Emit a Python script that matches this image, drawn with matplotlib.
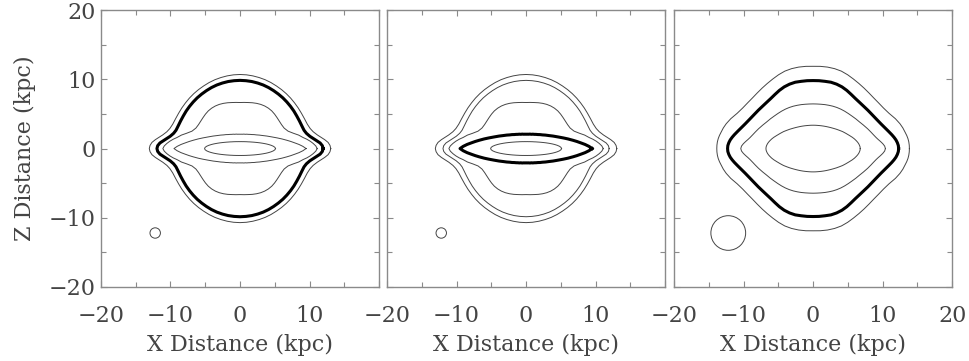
"""Three-panel iso-density contours (X-Z plane) for the disk+halo model,
with the smoothing beam drawn in the lower-left corner of each panel."""
import numpy as np
import matplotlib
matplotlib.use("Agg")
import matplotlib.pyplot as plt
from matplotlib.patches import Circle
from matplotlib.ticker import MultipleLocator, FixedLocator

# one quadrant of every contour, as radius (kpc) against polar angle (deg);
# the curves are mirror-symmetric in X and Z
THETA_DEG = [0, 2, 4, 6, 8, 10, 13, 16, 20, 25, 30, 35, 40, 45, 50, 55,
             60, 65, 70, 75, 80, 85, 90]

# panels 1 and 2 share the same contour set
R_HALO_OUT = [13.05, 12.95, 12.7, 12.25, 11.75, 11.3, 10.8, 10.5, 10.3, 10.22,
              10.2, 10.22, 10.25, 10.3, 10.35, 10.4, 10.45, 10.52, 10.58, 10.62,
              10.66, 10.69, 10.7]
R_HALO_IN = [11.95, 11.85, 11.55, 11.05, 10.6, 10.2, 9.8, 9.58, 9.48, 9.43,
             9.42, 9.45, 9.48, 9.52, 9.57, 9.61, 9.66, 9.72, 9.77, 9.8,
             9.83, 9.84, 9.85]
R_PINCH = [11.1, 10.9, 10.55, 10.15, 9.7, 9.2, 8.65, 8.0, 7.35, 7.0,
           6.9, 6.9, 6.95, 7.03, 7.1, 7.12, 7.1, 7.04, 6.95, 6.85,
           6.75, 6.69, 6.65]
R_LENS = [9.5, 9.05, 8.5, 7.9, 7.37, 6.86, 6.18, 5.57, 4.9, 4.27,
          3.76, 3.39, 3.07, 2.85, 2.64, 2.5, 2.37, 2.29, 2.19, 2.16,
          2.1, 2.08, 2.07]
R_CORE = [5.1, 5.02, 4.8, 4.5, 4.17, 3.84, 3.38, 2.99, 2.57, 2.18,
          1.89, 1.68, 1.51, 1.39, 1.29, 1.21, 1.15, 1.1, 1.06, 1.03,
          1.02, 1.0, 1.0]

# panel 3
R3_OUT = [13.85, 13.84, 13.8, 13.72, 13.6, 13.45, 13.25, 13.0, 12.6, 12.05,
          11.7, 11.5, 11.38, 11.36, 11.4, 11.48, 11.6, 11.76, 11.9, 11.95,
          11.95, 11.92, 11.88]
R3_THICK = [12.3, 12.27, 12.15, 11.98, 11.75, 11.5, 11.12, 10.78, 10.4, 10.05,
            9.8, 9.63, 9.5, 9.44, 9.45, 9.55, 9.7, 9.83, 9.9, 9.92,
            9.86, 9.84, 9.82]
R3_MID = [10.4, 10.3, 10.05, 9.75, 9.45, 9.2, 8.9, 8.65, 8.35, 8.0,
          7.7, 7.49, 7.3, 7.16, 7.05, 6.95, 6.85, 6.75, 6.65, 6.57,
          6.5, 6.46, 6.45]
R3_IN = [6.78, 6.76, 6.69, 6.6, 6.48, 6.34, 6.12, 5.88, 5.55, 5.2,
         4.9, 4.6, 4.35, 4.13, 3.95, 3.8, 3.68, 3.58, 3.5, 3.44,
         3.4, 3.38, 3.37]

PANEL_CONTOURS = [
    [R_HALO_OUT, R_HALO_IN, R_PINCH, R_LENS, R_CORE],
    [R_HALO_OUT, R_HALO_IN, R_PINCH, R_LENS, R_CORE],
    [R3_OUT, R3_THICK, R3_MID, R3_IN],
]
THICK_INDEX = [1, 3, 1]          # highlighted contour in each panel

BEAM_CENTER = (-12.2, -12.2)
BEAM_RADII = [0.75, 0.75, 2.5]

AX_LIM = 20
MAJOR_TICKS = [-20, -10, 0, 10, 20]
X_LABEL = "X Distance (kpc)"
Y_LABEL = "Z Distance (kpc)"

TEXT_C = "#444444"
FRAME_C = "#8a8a8a"
FS = 16


def _closed_curve(theta_deg, radii):
    th = np.radians(np.asarray(theta_deg, float))
    r = np.asarray(radii, float)
    # quadrant -> full loop by mirroring about both axes
    ang = np.concatenate([th, np.pi - th[::-1], np.pi + th, 2 * np.pi - th[::-1]])
    rr = np.concatenate([r, r[::-1], r, r[::-1]])
    return rr * np.cos(ang), rr * np.sin(ang)


def _style_axes(ax, show_y, show_x20):
    ax.set_xlim(-AX_LIM, AX_LIM)
    ax.set_ylim(-AX_LIM, AX_LIM)
    ax.xaxis.set_major_locator(FixedLocator(MAJOR_TICKS))
    ax.yaxis.set_major_locator(FixedLocator(MAJOR_TICKS))
    ax.xaxis.set_minor_locator(MultipleLocator(5))
    ax.yaxis.set_minor_locator(MultipleLocator(5))
    ax.tick_params(which="both", direction="in", top=True, right=True,
                   color=FRAME_C, width=0.8, labelcolor=TEXT_C, labelsize=FS)
    ax.tick_params(which="major", length=4)
    ax.tick_params(which="minor", length=3.5)
    ax.tick_params(axis="x", which="major", pad=13)
    ax.tick_params(axis="y", which="major", pad=4)
    xl = ["\u221220", "\u221210", "0", "10", "20" if show_x20 else ""]
    ax.set_xticklabels(xl)
    if show_y:
        ax.set_yticklabels(["\u221220", "\u221210", "0", "10", "20"])
    else:
        ax.set_yticklabels([])
    for sp in ax.spines.values():
        sp.set_color(FRAME_C)
        sp.set_linewidth(1.0)
    ax.set_xlabel(X_LABEL, fontsize=FS, color=TEXT_C, labelpad=5)


def main():
    plt.rcParams["font.family"] = ["DejaVu Serif"]
    fig = plt.figure(figsize=(9.69, 3.61), dpi=100)
    lefts = [0.1042, 0.3994, 0.6956]
    for i, left in enumerate(lefts):
        ax = fig.add_axes([left, 0.205, 0.287, 0.767])
        for j, radii in enumerate(PANEL_CONTOURS[i]):
            x, z = _closed_curve(THETA_DEG, radii)
            if j == THICK_INDEX[i]:
                ax.plot(x, z, color="black", lw=2.2, solid_joinstyle="round")
            else:
                ax.plot(x, z, color="#444444", lw=0.7)
        ax.add_patch(Circle(BEAM_CENTER, BEAM_RADII[i], fill=False,
                            edgecolor="#444444", lw=0.7))
        _style_axes(ax, show_y=(i == 0), show_x20=(i == 2))
        if i == 0:
            ax.set_ylabel(Y_LABEL, fontsize=FS, color=TEXT_C, labelpad=9)
    fig.savefig("out.png", dpi=100)
    plt.close(fig)


if __name__ == "__main__":
    main()
